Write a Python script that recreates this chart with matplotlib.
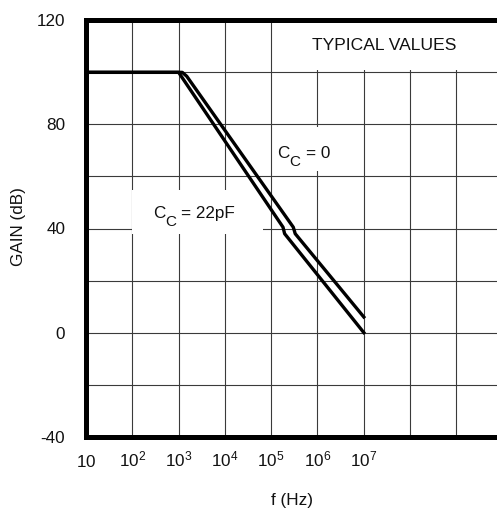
import matplotlib
matplotlib.use("Agg")
import matplotlib.pyplot as plt
from matplotlib.patches import Rectangle

plt.rcParams['font.family'] = ['Liberation Sans', 'DejaVu Sans']
plt.rcParams['mathtext.default'] = 'regular'

# open-loop gain curves
f_22pf = [10, 1e3, 1.8e5, 1.95e5, 1e7]
gain_22pf = [100, 100, 40.5, 38, 0]
f_0 = [10, 1.2e3, 1.5e3, 3.0e5, 3.3e5, 1e7]
gain_0 = [100, 100, 98.5, 40.5, 38, 6]

x_ticks = [1e1, 1e2, 1e3, 1e4, 1e5, 1e6, 1e7, 1e8, 1e9]
x_labels = [r'$\mathregular{10}$', r'$\mathregular{10^2}$', r'$\mathregular{10^3}$',
            r'$\mathregular{10^4}$', r'$\mathregular{10^5}$',
            r'$\mathregular{10^6}$', r'$\mathregular{10^7}$', '', '']
y_ticks = [-40, -20, 0, 20, 40, 60, 80, 100, 120]
y_labels = ['-40', '', '0', '', '40', '', '80', '', '120']

W, H = 497, 508
FS = 12.3
INK = '#111'


def px(x, y):
    # pixel position (from top-left) -> figure fraction
    return x / W, 1 - y / H


fig = plt.figure(figsize=(W / 100, H / 100), dpi=100)
ax = fig.add_axes([86 / W, (H - 436.7) / H, 416.7 / W, 416.4 / H])

ax.set_xscale('log')
ax.set_xlim(10, 1e10)
ax.set_ylim(-40, 120)
ax.set_xticks(x_ticks)
ax.set_xticklabels(x_labels, va='baseline')
ax.minorticks_off()
ax.set_yticks(y_ticks)
ax.set_yticklabels(y_labels)
ax.tick_params(axis='both', length=0, labelsize=FS, colors=INK)
ax.tick_params(axis='x', pad=21.5)
ax.tick_params(axis='y', pad=15)
ax.grid(True, color='#3a3a3a', lw=0.8)
ax.set_axisbelow(True)

for side in ('left', 'top', 'bottom'):
    ax.spines[side].set_linewidth(3.6)
    ax.spines[side].set_color('black')
ax.spines['right'].set_visible(False)

ax.plot(f_22pf, gain_22pf, color='black', lw=2.4, zorder=3)
ax.plot(f_0, gain_0, color='black', lw=2.4, zorder=3)

# white areas behind the notes (grid is hidden there)
ax.add_patch(Rectangle((1.1e5, 101), 1e10, 18, facecolor='white',
                       edgecolor='none', zorder=1))
ax.add_patch(Rectangle((1.0e2, 37.9), 6.6e4 - 1.0e2, 16.9,
                       facecolor='white', edgecolor='none', zorder=1))
ax.add_patch(Rectangle((1.2e5, 62), 3.0e6 - 1.2e5, 17,
                       facecolor='white', edgecolor='none', zorder=1))

ax.text(2.8e7, 110.4, 'TYPICAL VALUES', fontsize=12.6, ha='center',
        va='center', color=INK, zorder=4)

# C_C labels: main letter, lowered subscript, rest of the text
for (xc, xs, xr, yb, rest) in [(153, 165, 181, 218, '= 22pF'),
                               (277, 289, 306, 158, '= 0')]:
    fig.text(*px(xc, yb), 'C', fontsize=FS, ha='left', va='baseline', color=INK)
    fig.text(*px(xs, yb + 8.5), 'C', fontsize=11, ha='left', va='baseline',
             color=INK)
    fig.text(*px(xr, yb), rest, fontsize=FS, ha='left', va='baseline',
             color=INK)

fig.text(*px(18.5, 227), 'GAIN (dB)', rotation=90, fontsize=FS,
         ha='center', va='center', color=INK)
fig.text(*px(292, 500), 'f (Hz)', fontsize=FS, ha='center',
         va='center', color=INK)

fig.savefig('out.png', dpi=100)
